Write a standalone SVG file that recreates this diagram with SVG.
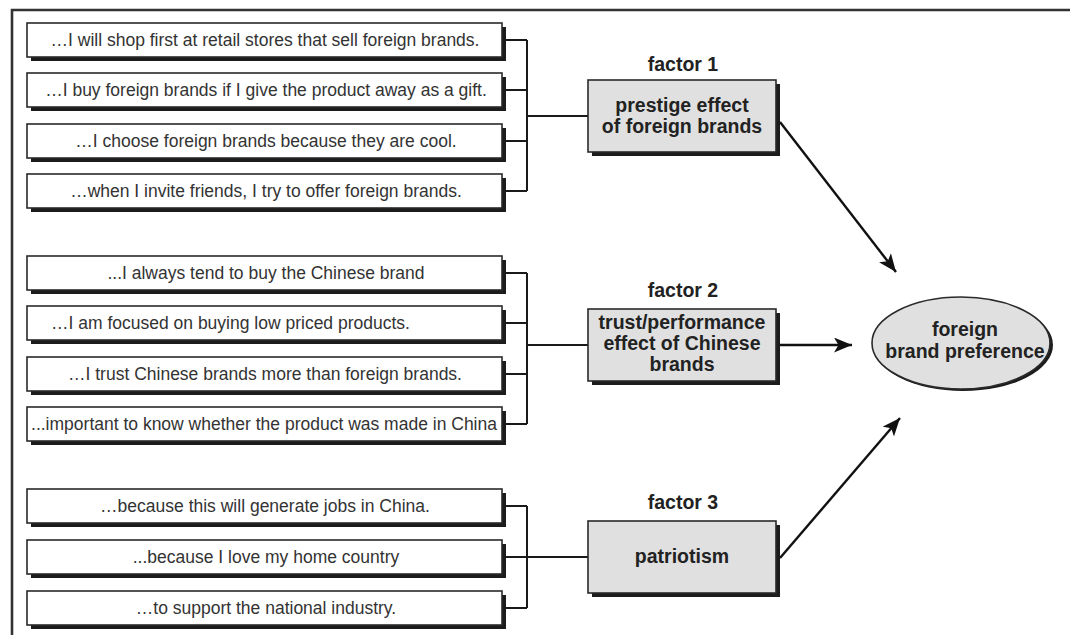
<svg xmlns="http://www.w3.org/2000/svg" width="1070" height="635" viewBox="0 0 1070 635">
<defs>
<style>
.stmt rect.bx{fill:#fff;stroke:#2a2a2a;stroke-width:1.6}
.shd{fill:#1c1c1c}
.stmt text{font-family:"Liberation Sans",Arial,sans-serif;font-size:17.5px;fill:#333;text-anchor:middle}
.fac rect.bx{fill:#e0e0e0;stroke:#2a2a2a;stroke-width:1.6}
.bold{font-family:"Liberation Sans",Arial,sans-serif;font-size:19.5px;font-weight:bold;fill:#222;text-anchor:middle}
.conn{fill:none;stroke:#1a1a1a;stroke-width:2}
.arr{fill:none;stroke:#111;stroke-width:2.4}
</style>
<marker id="ah" markerUnits="userSpaceOnUse" markerWidth="20" markerHeight="16" refX="18" refY="7.5" orient="auto">
<path d="M0,0 L18,7.5 L0,15 L4.5,7.5 Z" fill="#111"/>
</marker>
</defs>
<rect width="1070" height="635" fill="#fff"/>
<path d="M12,635 V10 H1070" fill="none" stroke="#333" stroke-width="2.6"/>

<g id="connectors">
<path class="conn" d="M502,40 H527 M502,90 H527 M502,141 H527 M502,191 H527 M527,40 V191 M527,116 H588"/>
<path class="conn" d="M502,273 H527 M502,323 H527 M502,374 H527 M502,424 H527 M527,273 V424 M527,345 H588"/>
<path class="conn" d="M502,506 H527 M502,557 H588 M502,608 H527 M527,506 V608"/>
<path class="arr" d="M780,122 L896,272" marker-end="url(#ah)"/>
<path class="arr" d="M780,345 L852,345" marker-end="url(#ah)"/>
<path class="arr" d="M780,558 L900,418" marker-end="url(#ah)"/>
</g>

<g id="s1" class="stmt"><rect class="shd" x="31" y="27" width="475" height="34"/><rect class="bx" x="27" y="23" width="475" height="34"/><text x="265" y="46">…I will shop first at retail stores that sell foreign brands.</text></g>
<g id="s2" class="stmt"><rect class="shd" x="31" y="77" width="475" height="34"/><rect class="bx" x="27" y="73" width="475" height="34"/><text x="266" y="96">…I buy foreign brands if I give the product away as a gift.</text></g>
<g id="s3" class="stmt"><rect class="shd" x="31" y="128" width="475" height="34"/><rect class="bx" x="27" y="124" width="475" height="34"/><text x="266" y="147">…I choose foreign brands because they are cool.</text></g>
<g id="s4" class="stmt"><rect class="shd" x="31" y="178" width="475" height="34"/><rect class="bx" x="27" y="174" width="475" height="34"/><text x="266" y="197">…when I invite friends, I try to offer foreign brands.</text></g>

<g id="s5" class="stmt"><rect class="shd" x="31" y="260" width="475" height="34"/><rect class="bx" x="27" y="256" width="475" height="34"/><text x="266" y="279">...I always tend to buy the Chinese brand</text></g>
<g id="s6" class="stmt"><rect class="shd" x="31" y="310" width="475" height="34"/><rect class="bx" x="27" y="306" width="475" height="34"/><text x="51" y="329" style="text-anchor:start">…I am focused on buying low priced products.</text></g>
<g id="s7" class="stmt"><rect class="shd" x="31" y="361" width="475" height="34"/><rect class="bx" x="27" y="357" width="475" height="34"/><text x="265" y="380">…I trust Chinese brands more than foreign brands.</text></g>
<g id="s8" class="stmt"><rect class="shd" x="31" y="411" width="475" height="34"/><rect class="bx" x="27" y="407" width="475" height="34"/><text x="264" y="430">...important to know whether the product was made in China</text></g>

<g id="s9" class="stmt"><rect class="shd" x="31" y="493" width="475" height="34"/><rect class="bx" x="27" y="489" width="475" height="34"/><text x="265" y="512">…because this will generate jobs in China.</text></g>
<g id="s10" class="stmt"><rect class="shd" x="31" y="544" width="475" height="34"/><rect class="bx" x="27" y="540" width="475" height="34"/><text x="266" y="563">...because I love my home country</text></g>
<g id="s11" class="stmt"><rect class="shd" x="31" y="595" width="475" height="34"/><rect class="bx" x="27" y="591" width="475" height="34"/><text x="266" y="614">…to support the national industry.</text></g>

<g id="f1" class="fac">
<text class="bold" x="683" y="71">factor 1</text>
<rect class="shd" x="592" y="84" width="188" height="72"/><rect class="bx" x="588" y="80" width="188" height="72"/>
<text class="bold" x="682" y="112">prestige effect</text>
<text class="bold" x="682" y="133">of foreign brands</text>
</g>
<g id="f2" class="fac">
<text class="bold" x="683" y="297">factor 2</text>
<rect class="shd" x="592" y="313" width="188" height="72"/><rect class="bx" x="588" y="309" width="188" height="72"/>
<text class="bold" x="682" y="329">trust/performance</text>
<text class="bold" x="682" y="350">effect of Chinese</text>
<text class="bold" x="682" y="371">brands</text>
</g>
<g id="f3" class="fac">
<text class="bold" x="683" y="509">factor 3</text>
<rect class="shd" x="592" y="525" width="188" height="72"/><rect class="bx" x="588" y="521" width="188" height="72"/>
<text class="bold" x="682" y="563">patriotism</text>
</g>

<g id="outcome">
<ellipse cx="963" cy="345" rx="90" ry="46" fill="#1c1c1c"/>
<ellipse cx="961" cy="343" rx="89" ry="46" fill="#e0e0e0" stroke="#2a2a2a" stroke-width="1.6"/>
<text class="bold" x="965" y="336">foreign</text>
<text class="bold" x="965" y="358">brand preference</text>
</g>
</svg>
